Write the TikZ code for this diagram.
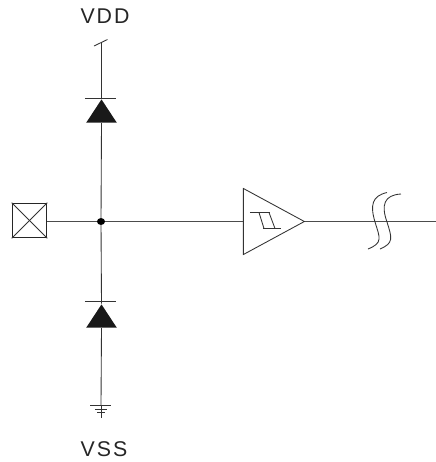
\documentclass[tikz,border=0pt]{standalone}
\usepackage{fontspec}
\setmainfont{Liberation Sans}
\newfontfamily\pinfont[LetterSpace=9]{Liberation Sans}
\usetikzlibrary{shapes.geometric}

\begin{document}
\begin{tikzpicture}[
            x=0.75pt, y=-0.75pt,
            wire/.style={line width=0.85pt, draw=black!70},
            thin wire/.style={line width=0.65pt, draw=black!80},
            pin label/.style={font=\pinfont\fontsize{16}{18}\selectfont, text=black!85, inner sep=0pt},
            pad node/.style={rectangle, draw=black!85, line width=0.65pt, minimum size=26pt, inner sep=0pt},
            junction node/.style={ellipse, fill=black, minimum width=6pt, minimum height=5.2pt, inner sep=0pt},
            diode node/.style={isosceles triangle, isosceles triangle stretches, shape border rotate=90, fill=black!90, minimum width=23pt, minimum height=17.5pt, inner sep=0pt},
            buffer node/.style={isosceles triangle, isosceles triangle stretches, draw=black!80, line width=0.65pt, minimum width=49.5pt, minimum height=45.7pt, inner sep=0pt},
            ]
            \useasboundingbox (0,0) rectangle (436,462);

            \node[pin label] (vdd) at (105,16) {VDD};
            \node[pin label] (vss) at (104,449) {VSS};

            \node[pad node] (pad) at (29.5,220.5) {};
            \node[junction node] (dot) at (101,221.5) {};
            \node[buffer node, anchor=lower side] (buf) at (243,221.5) {};
            \node[diode node, anchor=lower side] (d1) at (101.5,123) {};
            \node[diode node, anchor=lower side] (d2) at (101.5,328) {};

            \coordinate (top) at (101,43);
            \coordinate (gnd) at (101,405.5);
            \coordinate (out) at (436,221.5);

            \draw[thin wire] (top) -- (d1.apex |- top) -- (d1.apex);
            \draw[thin wire] (d1.lower side) -- (dot);
            \draw[thin wire] (dot) -- (d2.apex);
            \draw[thin wire] (d2.lower side) -- (gnd);
            \draw[wire] (pad.east |- dot) -- (dot) -- (buf.lower side);
            \draw[wire] (buf.apex) -- (out);

            % cross in the pad
            \draw[thin wire] (pad.north west) -- (pad.south east);
            \draw[thin wire] (pad.north east) -- (pad.south west);

            % rail marks
            \draw[thin wire] (94,46) -- (107.5,39.5);
            \draw[thin wire] (85,98.5) -- (116.5,98.5);
            \draw[thin wire] (85,301.5) -- (116.5,301.5);

            % ground
            \draw[thin wire] (90.5,405.7) -- (111,405.7);
            \draw[thin wire] (95,409.3) -- (107.5,409.3);
            \draw[thin wire] (97.5,412.8) -- (105,412.8);
            \draw[thin wire] (gnd) -- (101,417.5);

            % schmitt symbol
            \draw[thin wire] (250,212.5) -- (270,212.5);
            \draw[thin wire] (259,212.5) -- (264,228.5);
            \draw[thin wire] (269,212.5) -- (275,228.5);
            \draw[thin wire] (263,228.5) -- (281,228.5);

            % break in the line
            \draw[thin wire] (387,192.5) .. controls (372,196) and (370,205) .. (375,222)
                .. controls (380,238) and (383,243) .. (368,249);
            \draw[thin wire] (401,194) .. controls (384,195) and (381,205) .. (387,222)
                .. controls (392,238) and (394,243) .. (380,249);
        \end{tikzpicture}
\end{document}
